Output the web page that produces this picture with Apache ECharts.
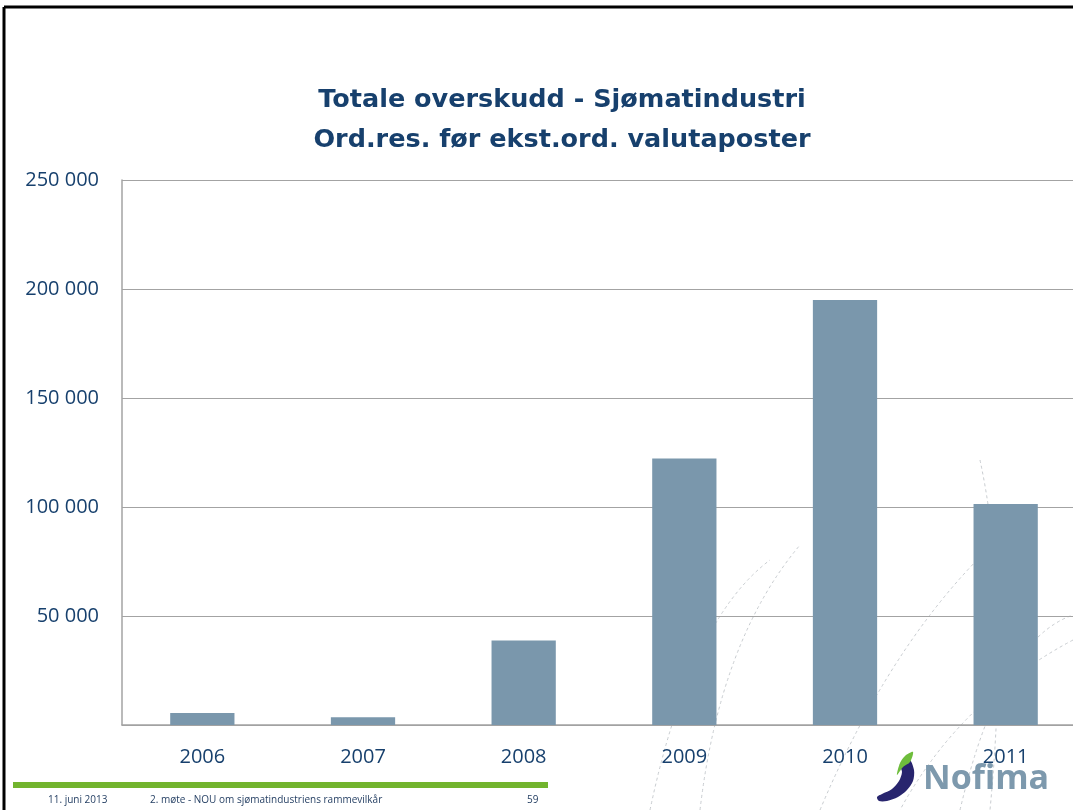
<!DOCTYPE html>
<html>
<head>
<meta charset="utf-8">
<script src="https://cdn.jsdelivr.net/npm/echarts@6/dist/echarts.min.js"></script>
<style>
  html, body { margin: 0; padding: 0; background: #ffffff; overflow: hidden; }
  /* the plot runs a little past the right edge of the slide */
  #chart { width: 1092px; height: 810px; }
</style>
</head>
<body>
<div id="chart"></div>
<script>
// Totale overskudd i sjømatindustrien (1000 NOK)
const years = ['2006', '2007', '2008', '2009', '2010', '2011'];
const profit = [5500, 3600, 38800, 122300, 195000, 101400];
const yTicks = [0, 50000, 100000, 150000, 200000, 250000];

const titleLines = ['Totale overskudd - Sjømatindustri', 'Ord.res. før ekst.ord. valutaposter'];
const footerDate = '11. juni 2013';
const footerText = '2. møte - NOU om sjømatindustriens rammevilkår';
const footerPage = '59';

const navy = '#17406d';
const barColor = '#7a97ac';

function fmtThousands(v) {
  return String(v).replace(/\B(?=(\d{3})+(?!\d))/g, ' ');
}

const chart = echarts.init(document.getElementById('chart'), null, { renderer: 'canvas' });

// faint dashed arcs of the slide background
const arcStyle = { stroke: '#c8ccd0', lineWidth: 1, lineDash: [3, 3], fill: null };
const arcShapes = [
  { x1: 700, y1: 810, cpx1: 720, cpy1: 640, x2: 800, y2: 545 },
  { x1: 650, y1: 810, cpx1: 690, cpy1: 620, x2: 770, y2: 560 },
  { x1: 820, y1: 810, cpx1: 900, cpy1: 620, x2: 1020, y2: 520 },
  { x1: 960, y1: 810, cpx1: 1000, cpy1: 640, x2: 1073, y2: 615 },
  { x1: 980, y1: 460, cpx1: 1010, cpy1: 600, x2: 990, y2: 810 },
  { x1: 1073, y1: 640, cpx1: 960, cpy1: 700, x2: 900, y2: 810 }
];
const arcs = arcShapes.map(s => ({
  type: 'bezierCurve', silent: true, z: -10, shape: s, style: arcStyle
}));

// logo swoosh outlines
const swooshBlue = [[909, 759], [914, 770], [913, 781], [907, 790], [898, 797], [887, 801], [879, 801], [877, 797], [882, 794], [892, 789], [899, 781], [902, 772], [900, 764]];
const swooshGreen = [[913, 752], [905, 756], [900, 763], [897, 775], [903, 767], [910, 762]];

chart.setOption({
  backgroundColor: '#ffffff',
  animation: false,
  title: {
    text: titleLines.join('\n'),
    left: 557,
    textAlign: 'center',
    top: 75,
    textStyle: {
      fontFamily: '"DejaVu Sans", sans-serif',
      fontWeight: 'bold',
      fontSize: 25.5,
      lineHeight: 40,
      color: navy
    }
  },
  grid: { left: 122, top: 180, width: 964, height: 545, containLabel: false },
  xAxis: {
    type: 'category',
    data: years,
    axisLine: { show: true, lineStyle: { color: '#a3a3a3', width: 1.5 } },
    axisTick: { show: false },
    axisLabel: {
      color: navy, fontSize: 20, margin: 22,
      fontFamily: '"Open Sans", "Noto Sans", sans-serif'
    }
  },
  yAxis: {
    type: 'value',
    min: yTicks[0],
    max: yTicks[yTicks.length - 1],
    interval: yTicks[1] - yTicks[0],
    axisLine: { show: true, lineStyle: { color: '#a3a3a3', width: 1.5 } },
    axisTick: { show: false },
    splitLine: { show: true, lineStyle: { color: '#a3a3a3', width: 1.2 } },
    axisLabel: {
      color: navy, fontSize: 20, margin: 23,
      fontFamily: '"Open Sans", "Noto Sans", sans-serif',
      formatter: v => (v === 0 ? '' : fmtThousands(v))
    }
  },
  series: [{
    type: 'bar',
    data: profit,
    barCategoryGap: '60%',
    itemStyle: { color: barColor }
  }],
  graphic: [
    ...arcs,
    // slide frame
    { type: 'line', silent: true, shape: { x1: 4, y1: 7, x2: 1092, y2: 7 }, style: { stroke: '#000', lineWidth: 3 } },
    { type: 'line', silent: true, shape: { x1: 4, y1: 7, x2: 4, y2: 810 }, style: { stroke: '#000', lineWidth: 3 } },
    // footer
    { type: 'rect', silent: true, shape: { x: 13, y: 782, width: 535, height: 6 }, style: { fill: '#72b42e' } },
    { type: 'text', silent: true, left: 48, top: 795, style: { text: footerDate, fontSize: 10, fill: '#1f3a5f', fontFamily: '"Open Sans", sans-serif' } },
    { type: 'text', silent: true, left: 150, top: 795, style: { text: footerText, fontSize: 10, fill: '#1f3a5f', fontFamily: '"Open Sans", sans-serif' } },
    { type: 'text', silent: true, left: 527, top: 795, style: { text: footerPage, fontSize: 10, fill: '#1f3a5f', fontFamily: '"Open Sans", sans-serif' } },
    // Nofima logo
    { type: 'polygon', silent: true, shape: { points: swooshBlue, smooth: 0.3 }, style: { fill: '#28256e' } },
    { type: 'polygon', silent: true, shape: { points: swooshGreen, smooth: 0.3 }, style: { fill: '#6ebd3c' } },
    { type: 'text', silent: true, left: 923, top: 762, style: { text: 'Nofima', fontSize: 34, fontWeight: 'bold', fill: '#7d99ad', fontFamily: '"Open Sans", "Noto Sans", sans-serif' } }
  ]
});
</script>
</body>
</html>
